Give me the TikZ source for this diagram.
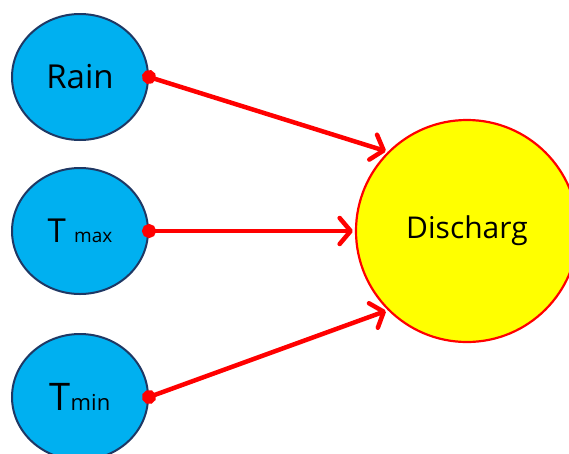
\documentclass[tikz,border=0pt]{standalone}
\usepackage{fontspec}
\setmainfont{Open Sans}
\usetikzlibrary{shapes.geometric,arrows.meta}
\definecolor{inblue}{HTML}{00B0F0}
\definecolor{inborder}{HTML}{1F3864}
\definecolor{outred}{HTML}{FF0000}
\definecolor{outyellow}{HTML}{FFFF00}
\tikzset{
  inputnode/.style={ellipse,draw=inborder,fill=inblue,line width=2pt,
    minimum width=136pt,minimum height=126pt,inner sep=0pt},
  outputnode/.style={circle,draw=outred,fill=outyellow,line width=2.2pt,
    minimum size=222pt,inner sep=0pt},
  link/.style={draw=outred,line width=4.5pt,line cap=round,line join=round,
    {Circle[length=14pt]}-{Straight Barb[length=11pt,width=26pt,line width=4.5pt,round]},
    shorten >=2pt, shorten <=-7pt}
}
\begin{document}
\begin{tikzpicture}[x=1pt,y=1pt]
\useasboundingbox (0,0) rectangle (569,-453);
\clip (0,0) rectangle (569,-453);
\node[inputnode] (rain) at (80,-77) {\fontsize{33}{36}\selectfont Rain};
\node[inputnode] (tmax) at (80,-231) {\fontsize{33}{36}\selectfont T\hspace{0.25em}{\fontsize{19}{20}\selectfont max}};
\node[inputnode] (tmin) at (80,-397) {\fontsize{38}{40}\selectfont T{\fontsize{22}{24}\selectfont min}};
\node[outputnode] (dis) at (467,-231) {\fontsize{30}{32}\selectfont Discharg};
\draw[link] (rain.east) -- (dis.135);
\draw[link] (tmax.east) -- (dis.west);
\draw[link] (tmin.east) -- (dis.225);
\end{tikzpicture}
\end{document}
